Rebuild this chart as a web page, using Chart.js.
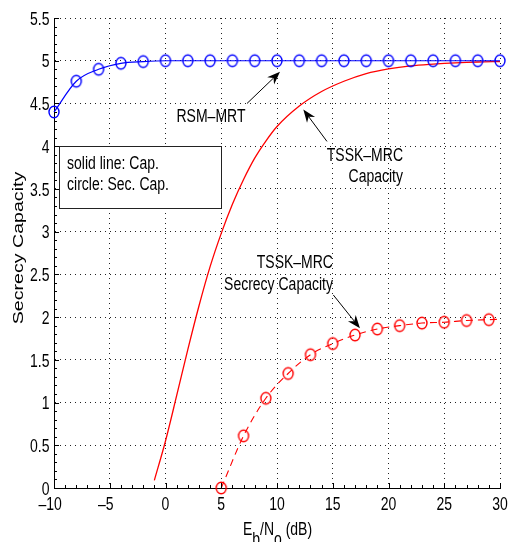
<!DOCTYPE html>
<html>
<head>
<meta charset="utf-8">
<script src="https://cdn.jsdelivr.net/npm/chart.js@4.4.1/dist/chart.umd.min.js"></script>
<style>
body { margin: 0; background: #fff; }
</style>
</head>
<body>
<canvas id="capChart" width="508" height="542"></canvas>
<script>
// values (Eb/No in dB, capacity in bits)
var rsmSnr = [-10, -8, -6, -4, -2, 0, 2, 4, 6, 8, 10, 12, 14, 16, 18, 20, 22, 24, 26, 28, 30];
var rsmCap = [4.40, 4.76, 4.90, 4.97, 4.99, 5, 5, 5, 5, 5, 5, 5, 5, 5, 5, 5, 5, 5, 5, 5, 5];

var tsskSnr = [-1, 0, 1, 2, 3, 4, 5, 6, 7, 8, 9, 10, 12, 14, 16, 18, 20, 22, 24, 26, 28, 30];
var tsskCap = [0.09, 0.55, 1.08, 1.62, 2.13, 2.59, 2.98, 3.32, 3.61, 3.86, 4.06, 4.23, 4.47, 4.64, 4.76, 4.85, 4.905, 4.94, 4.96, 4.975, 4.985, 4.99];

var tsskSecSnr = [5, 7, 9, 11, 13, 15, 17, 19, 21, 23, 25, 27, 29, 30];
var tsskSecCap = [0, 0.61, 1.05, 1.34, 1.56, 1.69, 1.79, 1.86, 1.90, 1.93, 1.94, 1.96, 1.97, 1.975];

var xTicks = [-10, -5, 0, 5, 10, 15, 20, 25, 30];
var yTicks = [0, 0.5, 1, 1.5, 2, 2.5, 3, 3.5, 4, 4.5, 5, 5.5];
var yTickLabels = ['0', '0.5', '1', '1.5', '2', '2.5', '3', '3.5', '4', '4.5', '5', '5.5'];

var FONT = '14px "Liberation Sans", Arial, sans-serif';
var STRETCH = 1.35; // the original figure is squeezed sideways

function pts(xs, ys) {
    return xs.map(function (v, i) { return { x: v, y: ys[i] }; });
}

// open, slightly tall circle marker like the matlab one
function ring(color) {
    var c = document.createElement('canvas');
    c.width = 14;
    c.height = 16;
    var g = c.getContext('2d');
    g.strokeStyle = color;
    g.lineWidth = 1.4;
    g.beginPath();
    g.ellipse(7, 8, 5, 5.8, 0, 0, Math.PI * 2);
    g.stroke();
    return c;
}

function txt(ctx, s, px, py, align) {
    // py = vertical centre of capitals
    ctx.save();
    ctx.translate(px, py + 0.358 * 14 * STRETCH);
    ctx.scale(1, STRETCH);
    ctx.font = FONT;
    ctx.fillStyle = '#000';
    ctx.textAlign = align;
    ctx.textBaseline = 'alphabetic';
    ctx.fillText(s, 0, 0);
    ctx.restore();
}

function arrow(ctx, x0, y0, x1, y1) {
    var ang = Math.atan2(y1 - y0, x1 - x0), L = 13, W = 5, N = 9;
    var c = Math.cos(ang), s = Math.sin(ang);
    ctx.beginPath();
    ctx.moveTo(x0, y0);
    ctx.lineTo(x1 - c * N, y1 - s * N);
    ctx.stroke();
    ctx.beginPath();
    ctx.moveTo(x1, y1);
    ctx.lineTo(x1 - c * L - s * W, y1 - s * L + c * W);
    ctx.lineTo(x1 - c * N, y1 - s * N);
    ctx.lineTo(x1 - c * L + s * W, y1 - s * L - c * W);
    ctx.closePath();
    ctx.fill();
}

var decorPlugin = {
    id: 'decor',
    afterDraw: function (chart) {
        var ctx = chart.ctx, x = chart.scales.x, y = chart.scales.y, a = chart.chartArea;
        var X = function (v) { return x.getPixelForValue(v); };
        var Y = function (v) { return y.getPixelForValue(v); };

        ctx.save();
        ctx.strokeStyle = '#000';
        ctx.fillStyle = '#000';
        ctx.lineWidth = 1;

        // inward tick marks
        ctx.beginPath();
        for (var v = -10; v <= 30; v++) {
            var px = Math.round(X(v)) + 0.5, len = (v % 5 === 0) ? 5 : 3;
            ctx.moveTo(px, a.bottom);
            ctx.lineTo(px, a.bottom - len);
        }
        for (var k = 0; k <= 55; k++) {
            var py = Math.round(Y(k / 10)) + 0.5, l2 = (k % 5 === 0) ? 5 : 3;
            ctx.moveTo(a.left, py);
            ctx.lineTo(a.left + l2, py);
        }
        ctx.stroke();

        // tick labels
        xTicks.forEach(function (t) {
            var s = String(Math.abs(t));
            var cx = X(t);
            txt(ctx, s, cx, 503.5, 'center');
            if (t < 0) {
                ctx.save();
                ctx.font = FONT;
                var w = ctx.measureText(s).width;
                ctx.restore();
                txt(ctx, '\u2013', cx - w / 2, 503.5, 'right');
            }
        });
        yTicks.forEach(function (t, i) {
            txt(ctx, yTickLabels[i], a.left - 4.5, Y(t), 'right');
        });

        // legend-like text box
        var bx0 = X(-9.55), bx1 = X(4.98), by0 = Y(4.0), by1 = Y(3.27);
        ctx.fillStyle = '#fff';
        ctx.fillRect(bx0, by0, bx1 - bx0, by1 - by0);
        ctx.strokeStyle = '#222';
        ctx.strokeRect(Math.round(bx0) + 0.5, Math.round(by0) + 0.5, Math.round(bx1 - bx0), Math.round(by1 - by0));
        ctx.fillStyle = '#000';
        ctx.strokeStyle = '#000';
        txt(ctx, 'solid line: Cap.', X(-8.83), Y(3.818), 'left');
        txt(ctx, 'circle: Sec. Cap.', X(-8.83), Y(3.57), 'left');

        // curve annotations
        txt(ctx, 'RSM\u2013MRT', X(4.08), Y(4.36), 'center');
        arrow(ctx, X(7.31), Y(4.50), X(10.27), Y(4.87));

        txt(ctx, 'TSSK\u2013MRC', X(21.3), Y(3.906), 'right');
        txt(ctx, 'Capacity', X(21.3), Y(3.66), 'right');
        arrow(ctx, X(14.48), Y(4.056), X(12.36), Y(4.43));

        txt(ctx, 'TSSK\u2013MRC', X(15.02), Y(2.652), 'right');
        txt(ctx, 'Secrecy Capacity', X(15.02), Y(2.394), 'right');
        arrow(ctx, X(15.05), Y(2.259), X(17.44), Y(1.87));

        // y axis title
        ctx.save();
        ctx.translate(19, (a.top + a.bottom) / 2 - 5);
        ctx.rotate(-Math.PI / 2);
        ctx.scale(1.4, 1);
        ctx.font = FONT;
        ctx.textAlign = 'center';
        ctx.textBaseline = 'middle';
        ctx.fillText('Secrecy Capacity', 0, 0);
        ctx.restore();

        // x axis title with subscripts
        var parts = [['E', 0], ['b', 1], ['/N', 0], ['o', 1], [' (dB)', 0]];
        ctx.font = FONT;
        var total = 0;
        parts.forEach(function (p) { total += ctx.measureText(p[0]).width; });
        var cx = 277.5 - total / 2;
        parts.forEach(function (p) {
            ctx.save();
            ctx.translate(cx, 535 + (p[1] ? 10 : 0));
            ctx.scale(1, STRETCH);
            ctx.font = FONT;
            ctx.textAlign = 'left';
            ctx.textBaseline = 'alphabetic';
            ctx.fillText(p[0], 0, 0);
            ctx.restore();
            cx += ctx.measureText(p[0]).width;
        });

        ctx.restore();
    }
};

var blueRing = ring('#0000ff');
var redRing = ring('#ff0000');

new Chart(document.getElementById('capChart'), {
    type: 'line',
    data: {
        datasets: [
            {
                label: 'RSM-MRT',
                data: pts(rsmSnr, rsmCap),
                borderColor: '#0000ff',
                borderWidth: 1.2,
                pointStyle: blueRing,
                pointRadius: 5,
                fill: false,
                clip: false,
                cubicInterpolationMode: 'monotone'
            },
            {
                label: 'TSSK-MRC Capacity',
                data: pts(tsskSnr, tsskCap),
                borderColor: '#ff0000',
                borderWidth: 1.3,
                pointRadius: 0,
                fill: false,
                cubicInterpolationMode: 'monotone'
            },
            {
                label: 'TSSK-MRC Secrecy Capacity',
                data: pts(tsskSecSnr, tsskSecCap),
                borderColor: '#ff0000',
                borderWidth: 1.1,
                borderDash: [7, 5],
                pointStyle: redRing,
                pointRadius: function (c) { return (c.raw && c.raw.x === 30) ? 0 : 5; },
                fill: false,
                clip: false,
                cubicInterpolationMode: 'monotone'
            }
        ]
    },
    options: {
        responsive: false,
        animation: false,
        events: [],
        layout: { padding: { top: 18, right: 8, left: 0, bottom: 0 } },
        plugins: { legend: { display: false }, tooltip: { enabled: false } },
        scales: {
            x: {
                type: 'linear',
                min: -10,
                max: 30,
                afterBuildTicks: function (s) { s.ticks = xTicks.map(function (v) { return { value: v }; }); },
                afterFit: function (s) { s.height = 54; },
                ticks: { display: false },
                grid: { color: '#222', drawTicks: false },
                border: { color: '#000', width: 1, dash: [1, 4] }
            },
            y: {
                type: 'linear',
                min: 0,
                max: 5.5,
                afterBuildTicks: function (s) { s.ticks = yTicks.map(function (v) { return { value: v }; }); },
                afterFit: function (s) { s.width = 54; },
                ticks: { display: false },
                grid: { color: '#222', drawTicks: false },
                border: { color: '#000', width: 1, dash: [1, 4] }
            }
        }
    },
    plugins: [decorPlugin]
});
</script>
</body>
</html>
